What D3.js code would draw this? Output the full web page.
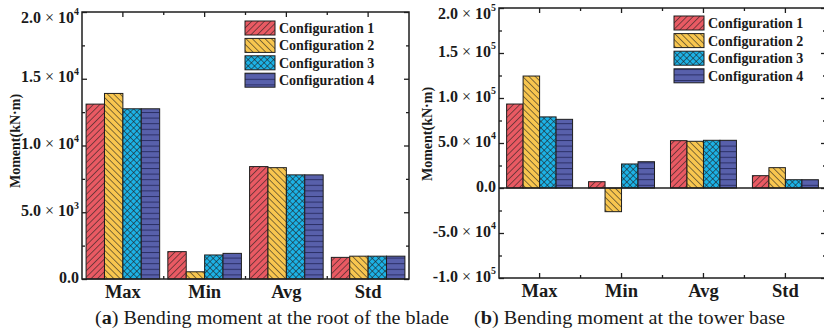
<!DOCTYPE html>
<html>
<head>
<meta charset="utf-8">
<script src="https://cdn.jsdelivr.net/npm/d3@7"></script>
<style>
  body { margin: 0; background: #fff; }
  svg text { font-family: "Liberation Serif", "Times New Roman", serif; fill: #1a1a1a; }
</style>
</head>
<body>
<script>
// categories and series
const categories = ["Max", "Min", "Avg", "Std"];
const configs = ["Configuration 1", "Configuration 2", "Configuration 3", "Configuration 4"];

// (a) blade root bending moment, kN·m
const bladeC1 = [13100, 2050, 8420, 1620];
const bladeC2 = [13900, 540, 8340, 1710];
const bladeC3 = [12750, 1800, 7800, 1710];
const bladeC4 = [12750, 1920, 7800, 1710];

// (b) tower base bending moment, kN·m
const towerC1 = [93300, 7000, 52600, 13700];
const towerC2 = [124400, -26300, 51900, 22600];
const towerC3 = [79000, 26700, 53000, 9200];
const towerC4 = [76300, 29200, 53000, 9200];

// tick values and labels ("^" marks the exponent)
const bladeTicks = [0, 5000, 10000, 15000, 20000];
const bladeTickLabels = ["0.0", "5.0×10^3", "1.0×10^4", "1.5×10^4", "2.0×10^4"];
const towerTicks = [-100000, -50000, 0, 50000, 100000, 150000, 200000];
const towerTickLabels = ["-1.0×10^5", "-5.0×10^4", "0.0", "5.0×10^4", "1.0×10^5", "1.5×10^5", "2.0×10^5"];

const colors = ["#e95a63", "#f8c64f", "#1cb2e6", "#5860ab"];
const ink = "#1e1e1e";

const width = 824;
const height = 335;

const svg = d3.select("body").append("svg")
  .attr("width", width)
  .attr("height", height);

// hatch patterns
const defs = svg.append("defs");
function hatch(id, color, angle, cross) {
  const s = 4.5;
  const p = defs.append("pattern")
    .attr("id", id)
    .attr("patternUnits", "userSpaceOnUse")
    .attr("width", s)
    .attr("height", s)
    .attr("patternTransform", `rotate(${angle})`);
  p.append("rect").attr("width", s).attr("height", s).attr("fill", color);
  p.append("line").attr("x1", 0).attr("y1", 0).attr("x2", 0).attr("y2", s)
    .attr("stroke", ink).attr("stroke-width", 1.1);
  if (cross) {
    p.append("line").attr("x1", 0).attr("y1", 0).attr("x2", s).attr("y2", 0)
      .attr("stroke", ink).attr("stroke-width", 1.1);
  }
}
hatch("pat0", colors[0], 45, false);
hatch("pat1", colors[1], -45, false);
hatch("pat2", colors[2], 45, true);
const stripes = defs.append("pattern")
  .attr("id", "pat3")
  .attr("patternUnits", "userSpaceOnUse")
  .attr("width", 6)
  .attr("height", 5.6);
stripes.append("rect").attr("width", 6).attr("height", 5.6).attr("fill", colors[3]);
stripes.append("line").attr("x1", 0).attr("x2", 6).attr("y1", 0.5).attr("y2", 0.5)
  .attr("stroke", "#2b2f66").attr("stroke-width", 1);
const fills = ["url(#pat0)", "url(#pat1)", "url(#pat2)", "url(#pat3)"];

function setTickLabel(sel, label, size) {
  sel.text(null);
  const [mant, exp] = label.split("^");
  const parts = mant.split("×");
  sel.append("tspan").attr("font-weight", "bold").attr("font-size", size).text(parts[0]);
  if (parts.length > 1) {
    sel.append("tspan").attr("font-size", size).attr("font-weight", "normal").text(" × ");
    sel.append("tspan").attr("font-weight", "bold").attr("font-size", size).text(parts[1]);
    sel.append("tspan").attr("font-weight", "bold").attr("font-size", size * 0.62)
      .attr("dy", "-0.75em").text(exp);
  }
}

function drawPanel(p) {
  const g = svg.append("g");

  const x = d3.scaleBand()
    .domain(categories)
    .range([p.x0, p.x1])
    .paddingInner(p.padIn)
    .paddingOuter(p.padOut);
  const xInner = d3.scaleBand()
    .domain(configs)
    .range([0, x.bandwidth()]);
  const y = d3.scaleLinear()
    .domain(p.domain)
    .range([p.y1, p.y0]);

  // y axis, ticks pointing in
  const mids = d3.pairs(p.ticks).map(([a, b]) => (a + b) / 2);
  const yAxis = g.append("g")
    .attr("transform", `translate(${p.x0},0)`)
    .call(d3.axisLeft(y).tickValues(p.ticks).tickSizeInner(-5).tickSizeOuter(0).tickPadding(3));
  yAxis.selectAll(".tick text").each(function (d, i) {
    setTickLabel(d3.select(this), p.labels[i], 16);
  });
  // the top label sits a little lower than its tick
  yAxis.selectAll(".tick text")
    .filter((d) => d === p.domain[1])
    .attr("y", 7);
  g.append("g")
    .attr("transform", `translate(${p.x0},0)`)
    .call(d3.axisLeft(y).tickValues(mids).tickSizeInner(-3).tickSizeOuter(0).tickFormat(""));
  // mirrored ticks on the right edge
  g.append("g")
    .attr("transform", `translate(${p.x1},0)`)
    .call(d3.axisRight(y).tickValues(p.ticks).tickSizeInner(-5).tickSizeOuter(0).tickFormat(""));
  g.append("g")
    .attr("transform", `translate(${p.x1},0)`)
    .call(d3.axisRight(y).tickValues(mids).tickSizeInner(-3).tickSizeOuter(0).tickFormat(""));

  // x axis
  const xAxis = g.append("g")
    .attr("transform", `translate(0,${p.y1})`)
    .call(d3.axisBottom(x).tickSizeInner(-5).tickSizeOuter(0).tickPadding(6));
  xAxis.selectAll(".tick text")
    .attr("font-size", 18.5)
    .attr("font-weight", "bold");
  const bounds = categories.slice(1).map((c) => x(c) - x.step() * x.paddingInner() / 2);
  g.append("g")
    .selectAll("line")
    .data(bounds)
    .join("line")
    .attr("x1", (d) => d).attr("x2", (d) => d)
    .attr("y1", p.y1).attr("y2", p.y1 - 3);
  g.append("g")
    .selectAll("line")
    .data(bounds)
    .join("line")
    .attr("x1", (d) => d).attr("x2", (d) => d)
    .attr("y1", p.y0).attr("y2", p.y0 + 3);
  g.append("g")
    .selectAll("line")
    .data(categories)
    .join("line")
    .attr("x1", (d) => x(d) + x.bandwidth() / 2).attr("x2", (d) => x(d) + x.bandwidth() / 2)
    .attr("y1", p.y0).attr("y2", p.y0 + 5);

  g.selectAll(".domain").remove();
  g.selectAll("line").attr("stroke", ink).attr("stroke-width", 1.3);

  // bars
  p.series.forEach((vals, si) => {
    g.append("g")
      .selectAll("rect")
      .data(vals)
      .join("rect")
      .attr("x", (d, i) => x(categories[i]) + xInner(configs[si]))
      .attr("width", xInner.bandwidth())
      .attr("y", (d) => y(Math.max(d, 0)))
      .attr("height", (d) => Math.abs(y(d) - y(0)))
      .attr("fill", fills[si])
      .attr("stroke", ink)
      .attr("stroke-width", 1);
  });

  if (p.domain[0] < 0) {
    g.append("line")
      .attr("x1", p.x0).attr("x2", p.x1)
      .attr("y1", y(0)).attr("y2", y(0))
      .attr("stroke", ink).attr("stroke-width", 1.5);
  }

  // frame
  g.append("rect")
    .attr("x", p.x0).attr("y", p.y0)
    .attr("width", p.x1 - p.x0).attr("height", p.y1 - p.y0)
    .attr("fill", "none")
    .attr("stroke", ink)
    .attr("stroke-width", 1.5);

  // legend
  const leg = g.append("g").attr("transform", `translate(${p.legend[0]},${p.legend[1]})`);
  configs.forEach((c, i) => {
    const row = leg.append("g").attr("transform", `translate(0,${i * p.legendStep})`);
    row.append("rect")
      .attr("width", 30).attr("height", 14)
      .attr("fill", fills[i])
      .attr("stroke", ink).attr("stroke-width", 1);
    row.append("text")
      .attr("x", 34).attr("y", 7).attr("dy", "0.35em")
      .attr("font-size", 14).attr("font-weight", "bold")
      .text(c);
  });

  // y title
  g.append("text")
    .attr("transform", `translate(${p.title[0]},${p.title[1]}) rotate(-90)`)
    .attr("text-anchor", "middle")
    .attr("dy", "0.35em")
    .attr("font-size", 14)
    .attr("font-weight", "bold")
    .text("Moment(kN·m)");

  // caption
  const cap = g.append("text")
    .attr("x", p.caption[0]).attr("y", p.caption[1])
    .attr("font-size", 18)
    .attr("textLength", p.caption[2])
    .attr("lengthAdjust", "spacingAndGlyphs");
  cap.append("tspan").text("(");
  cap.append("tspan").attr("font-weight", "bold").text(p.captionKey);
  cap.append("tspan").text(") " + p.captionText);
}

drawPanel({
  x0: 82, x1: 409, y0: 12, y1: 279,
  domain: [0, 20000],
  ticks: bladeTicks, labels: bladeTickLabels,
  series: [bladeC1, bladeC2, bladeC3, bladeC4],
  padIn: 0.1, padOut: 0.05,
  legend: [245, 21], legendStep: 17.4,
  title: [15, 141],
  caption: [95, 324, 354], captionKey: "a",
  captionText: "Bending moment at the root of the blade"
});

drawPanel({
  x0: 499, x1: 826, y0: 8, y1: 278,
  domain: [-100000, 200000],
  ticks: towerTicks, labels: towerTickLabels,
  series: [towerC1, towerC2, towerC3, towerC4],
  padIn: 0.195, padOut: 0.093,
  legend: [674, 16], legendStep: 17.6,
  title: [427, 134],
  caption: [474, 324, 311], captionKey: "b",
  captionText: "Bending moment at the tower base"
});
</script>
</body>
</html>
